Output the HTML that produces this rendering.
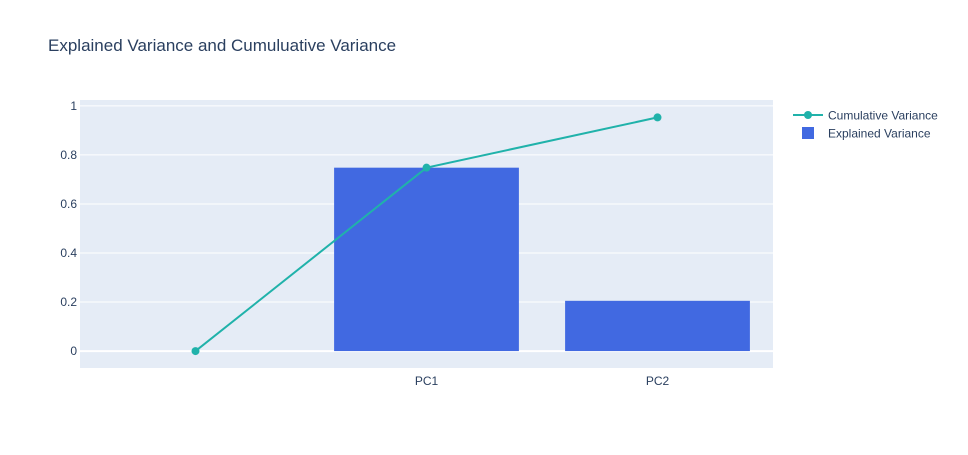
<!DOCTYPE html>
<html><head><meta charset="utf-8"><style>
body{margin:0;background:#fff;}
svg{font-family:"Liberation Sans",Arial,sans-serif;}
</style></head><body>
<svg id="chart" width="968" height="450">
<rect x="0" y="0" width="968" height="450" fill="#fff"/>
<text x="48" y="51" font-size="17" fill="#2a3f5f">Explained Variance and Cumuluative Variance</text>
<rect x="80" y="100" width="693" height="268" fill="#e5ecf6"/>
<g id="grid"></g>
<g id="bars"></g>
<g id="line"></g>
<g id="axes"></g>
<g>
<line x1="793" y1="115" x2="823" y2="115" stroke="#20b2aa" stroke-width="2"/>
<circle cx="808" cy="115" r="4" fill="#20b2aa"/>
<text x="828" y="119.5" font-size="12" fill="#2a3f5f">Cumulative Variance</text>
<rect x="802" y="127" width="12" height="12" fill="#4169e1"/>
<text x="828" y="137.5" font-size="12" fill="#2a3f5f">Explained Variance</text>
</g>
</svg>
<script>
const categories = ["", "PC1", "PC2"];
const explained = [0, 0.748, 0.205];
const cumulative = [0, 0.748, 0.953];
const yTicks = [0, 0.2, 0.4, 0.6, 0.8, 1];
const yTickLabels = ["0", "0.2", "0.4", "0.6", "0.8", "1"];

const NS = "http://www.w3.org/2000/svg";
const L = 80, R = 773, T = 100, B = 368;
const yMin = -0.069, yMax = 1.024;
const step = (R - L) / categories.length;
function x(i){ return L + step * (i + 0.5); }
function y(v){ return B - (v - yMin) / (yMax - yMin) * (B - T); }
function mk(tag, attrs, parent){ const e = document.createElementNS(NS, tag); for (const k in attrs) e.setAttribute(k, attrs[k]); document.getElementById(parent).appendChild(e); return e; }

yTicks.forEach((t, i) => {
  const g = mk("line", {x1: L, x2: R, y1: y(t), y2: y(t), stroke: "#fff", "stroke-width": t === 0 ? 2 : 1}, "grid");
  
  
  const tx = mk("text", {x: L - 3, y: y(t) + 4, "font-size": 12, fill: "#2a3f5f", "text-anchor": "end"}, "axes");
  tx.textContent = yTickLabels[i];
  
  
});
categories.forEach((c, i) => {
  const tx = mk("text", {x: x(i), y: 385, "font-size": 12, fill: "#2a3f5f", "text-anchor": "middle"}, "axes");
  tx.textContent = c;
  
  
  const w = step * 0.8;
  const top = Math.min(y(explained[i]), y(0)), h = Math.abs(y(explained[i]) - y(0));
  const b = mk("rect", {x: x(i) - w / 2, y: top, width: w, height: h, fill: "#4169e1"}, "bars");
  
  
});
const pl = mk("polyline", {points: cumulative.map((v, i) => x(i) + "," + y(v)).join(" "), fill: "none", stroke: "#20b2aa", "stroke-width": 2}, "line");


cumulative.forEach((v, i) => {
  const c = mk("circle", {cx: x(i), cy: y(v), r: 4, fill: "#20b2aa"}, "line");
  
  
});
</script>
</body></html>
